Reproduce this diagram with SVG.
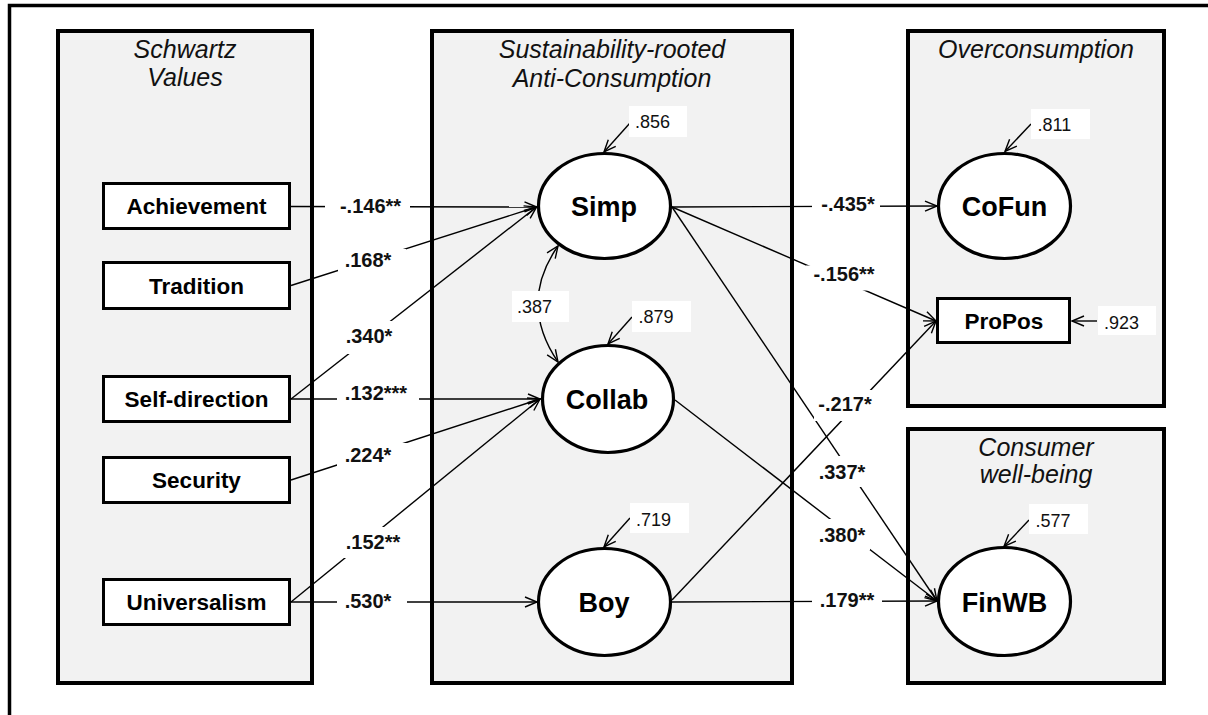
<svg xmlns="http://www.w3.org/2000/svg" width="1208" height="715" viewBox="0 0 1208 715">
  <style>
    .frame { fill: none; stroke: #000; stroke-width: 3.5; }
    .panel { fill: #f2f2f2; stroke: #000; stroke-width: 4; }
    .title { font-family: "Liberation Sans", Arial, sans-serif; font-style: italic; font-size: 25px; fill: #111; text-anchor: middle; }
    .box { fill: #fff; stroke: #000; stroke-width: 3; }
    .oval { fill: #fff; stroke: #000; stroke-width: 3.2; }
    .boxtxt { font-family: "Liberation Sans", Arial, sans-serif; font-weight: bold; font-size: 22.5px; fill: #000; text-anchor: middle; }
    .ovaltxt { font-family: "Liberation Sans", Arial, sans-serif; font-weight: bold; font-size: 27px; fill: #000; text-anchor: middle; }
    .edge { fill: none; stroke: #000; stroke-width: 1.4; marker-end: url(#arr); }
    .bg { fill: #fff; stroke: none; }
    .coef { font-family: "Liberation Sans", Arial, sans-serif; font-weight: bold; font-size: 20px; fill: #111; text-anchor: middle; }
    .res { font-family: "Liberation Sans", Arial, sans-serif; font-size: 18px; fill: #111; }
  </style>
  <defs>
    <marker id="arr" viewBox="-14 -7 16 14" refX="0" refY="0" markerWidth="16" markerHeight="14" markerUnits="userSpaceOnUse" orient="auto-start-reverse">
      <path d="M-12,-5 L0,0 L-12,5" fill="none" stroke="#000" stroke-width="1.4"/>
    </marker>
  </defs>

  <!-- outer frame (open at right and bottom) -->
  <path class="frame" d="M9.5,720 V5.5 H1212"/>

  <!-- construct panels -->
  <g id="panel-schwartz">
    <rect class="panel" x="58" y="31" width="254" height="652"/>
    <text class="title" x="185" y="58">Schwartz</text>
    <text class="title" x="185" y="86">Values</text>
  </g>
  <g id="panel-anti">
    <rect class="panel" x="432" y="31" width="360" height="652"/>
    <text class="title" x="612" y="58">Sustainability-rooted</text>
    <text class="title" x="612" y="87">Anti-Consumption</text>
  </g>
  <g id="panel-over">
    <rect class="panel" x="908" y="31" width="256" height="375"/>
    <text class="title" x="1036" y="58">Overconsumption</text>
  </g>
  <g id="panel-wellbeing">
    <rect class="panel" x="908" y="429" width="256" height="254"/>
    <text class="title" x="1036" y="456">Consumer</text>
    <text class="title" x="1036" y="483">well-being</text>
  </g>

  <!-- structural paths -->
  <g id="connectors">
    <line class="edge" x1="291" y1="206.5" x2="536.5" y2="207"/>
    <line class="edge" x1="291" y1="285.5" x2="536.5" y2="207"/>
    <line class="edge" x1="291" y1="399" x2="536.5" y2="207"/>
    <line class="edge" x1="291" y1="399" x2="540" y2="399"/>
    <line class="edge" x1="291" y1="480" x2="540" y2="399"/>
    <line class="edge" x1="291" y1="602" x2="540" y2="399"/>
    <line class="edge" x1="291" y1="602" x2="537" y2="602"/>
    <line class="edge" x1="672" y1="207" x2="937" y2="206"/>
    <line class="edge" x1="672" y1="207" x2="936" y2="321"/>
    <line class="edge" x1="672" y1="207" x2="937" y2="601"/>
    <line class="edge" x1="675" y1="400" x2="937" y2="601"/>
    <line class="edge" x1="672" y1="600" x2="936" y2="321"/>
    <line class="edge" x1="672" y1="602" x2="937" y2="601"/>
    <!-- correlation Simp <-> Collab -->
    <path class="edge" d="M558,362 Q518,303 558,246" marker-start="url(#arr)"/>
    <!-- residual arrows -->
    <line class="edge" x1="630" y1="123" x2="604" y2="152"/>
    <line class="edge" x1="632" y1="317" x2="608" y2="344"/>
    <line class="edge" x1="630" y1="518" x2="604" y2="547"/>
    <line class="edge" x1="1031" y1="124" x2="1005" y2="151.5"/>
    <line class="edge" x1="1097" y1="321" x2="1072" y2="321"/>
    <line class="edge" x1="1029" y1="520" x2="1004" y2="546.5"/>
  </g>

  <!-- path coefficients -->
  <g id="coefficients">
    <rect class="bg" x="325" y="195" width="85" height="22"/>
    <text class="coef" x="370.5" y="212.5">-.146**</text>
    <rect class="bg" x="338" y="249" width="68" height="23"/>
    <text class="coef" x="368" y="267">.168*</text>
    <rect class="bg" x="341" y="321" width="56" height="33"/>
    <text class="coef" x="369" y="343">.340*</text>
    <rect class="bg" x="337" y="388" width="82" height="21"/>
    <text class="coef" x="376" y="400">.132***</text>
    <rect class="bg" x="337" y="443" width="70" height="23"/>
    <text class="coef" x="368" y="462">.224*</text>
    <rect class="bg" x="340" y="527" width="66" height="31"/>
    <text class="coef" x="373" y="548.5">.152**</text>
    <rect class="bg" x="337" y="591" width="70" height="22"/>
    <text class="coef" x="368" y="608">.530*</text>
    <rect class="bg" x="812" y="195" width="68" height="22"/>
    <text class="coef" x="848" y="210.5">-.435*</text>
    <rect class="bg" x="806" y="265.5" width="74" height="25"/>
    <text class="coef" x="844" y="280.5">-.156**</text>
    <rect class="bg" x="814" y="390" width="60" height="31"/>
    <text class="coef" x="845" y="411">-.217*</text>
    <rect class="bg" x="814" y="456" width="56" height="31"/>
    <text class="coef" x="842" y="478.5">.337*</text>
    <rect class="bg" x="814" y="519" width="56" height="31"/>
    <text class="coef" x="842" y="542">.380*</text>
    <rect class="bg" x="812" y="591" width="70" height="22"/>
    <text class="coef" x="847" y="607">.179**</text>
  </g>

  <!-- residual / correlation values -->
  <g id="residuals">
    <rect class="bg" x="629" y="106" width="58" height="31"/>
    <text class="res" x="635" y="128">.856</text>
    <rect class="bg" x="632" y="301" width="59" height="31"/>
    <text class="res" x="638.5" y="322.5">.879</text>
    <rect class="bg" x="512" y="291" width="57" height="31"/>
    <text class="res" x="517" y="313">.387</text>
    <rect class="bg" x="630" y="503" width="59" height="30"/>
    <text class="res" x="636" y="525.5">.719</text>
    <rect class="bg" x="1031" y="109" width="59" height="30"/>
    <text class="res" x="1037.5" y="130.5">.811</text>
    <rect class="bg" x="1098" y="306" width="58" height="29"/>
    <text class="res" x="1104" y="329">.923</text>
    <rect class="bg" x="1029" y="504" width="59" height="30"/>
    <text class="res" x="1035.5" y="526.5">.577</text>
  </g>

  <!-- observed value nodes -->
  <g id="achievement">
    <rect class="box" x="103.5" y="183.5" width="186" height="45"/>
    <text class="boxtxt" x="196.5" y="214">Achievement</text>
  </g>
  <g id="tradition">
    <rect class="box" x="103.5" y="262.5" width="186" height="46"/>
    <text class="boxtxt" x="196.5" y="293.5">Tradition</text>
  </g>
  <g id="self-direction">
    <rect class="box" x="103.5" y="376.5" width="186" height="45"/>
    <text class="boxtxt" x="196.5" y="407">Self-direction</text>
  </g>
  <g id="security">
    <rect class="box" x="103.5" y="457.5" width="186" height="45"/>
    <text class="boxtxt" x="196.5" y="488">Security</text>
  </g>
  <g id="universalism">
    <rect class="box" x="103.5" y="579.5" width="186" height="45"/>
    <text class="boxtxt" x="196.5" y="610">Universalism</text>
  </g>
  <g id="propos">
    <rect class="box" x="937.5" y="298.5" width="132" height="44"/>
    <text class="boxtxt" x="1004" y="329">ProPos</text>
  </g>

  <!-- latent nodes -->
  <g id="simp">
    <ellipse class="oval" cx="604.5" cy="206" rx="66" ry="52.5"/>
    <text class="ovaltxt" x="604" y="216">Simp</text>
  </g>
  <g id="collab">
    <ellipse class="oval" cx="608" cy="399" rx="65.5" ry="53.5"/>
    <text class="ovaltxt" x="607" y="409">Collab</text>
  </g>
  <g id="boy">
    <ellipse class="oval" cx="604.5" cy="602" rx="66" ry="53.5"/>
    <text class="ovaltxt" x="604" y="612">Boy</text>
  </g>
  <g id="cofun">
    <ellipse class="oval" cx="1004.5" cy="206" rx="66" ry="52.5"/>
    <text class="ovaltxt" x="1004.5" y="216">CoFun</text>
  </g>
  <g id="finwb">
    <ellipse class="oval" cx="1004.5" cy="601.5" rx="66" ry="54"/>
    <text class="ovaltxt" x="1004.5" y="611.5">FinWB</text>
  </g>
</svg>
